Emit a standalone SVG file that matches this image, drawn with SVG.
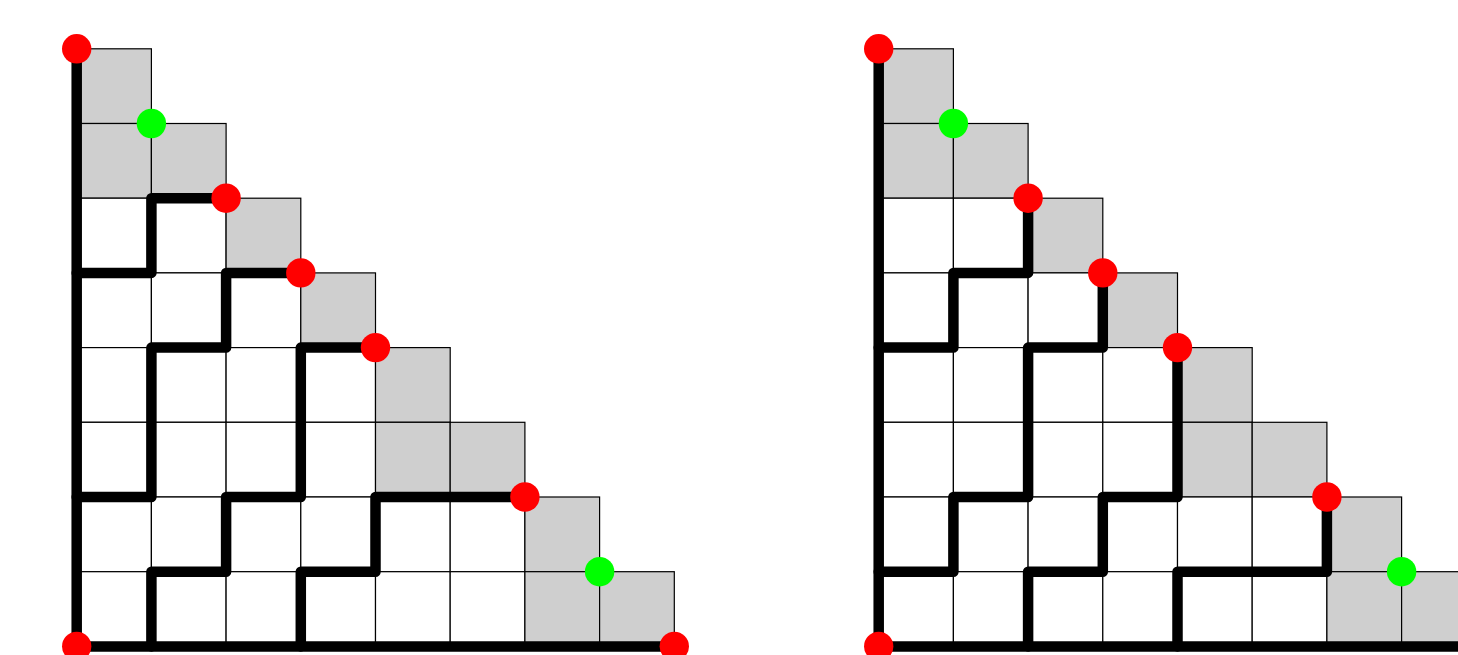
<svg xmlns="http://www.w3.org/2000/svg" xmlns:xlink="http://www.w3.org/1999/xlink" width="1458" height="655" viewBox="0 0 1458 655">
<style>
.w{fill:#ffffff;stroke:#000;stroke-width:1.2}
.g{fill:#cfcfcf;stroke:#000;stroke-width:1.2}
.p{fill:none;stroke:#000;stroke-width:10.5;stroke-linecap:round;stroke-linejoin:round}
.r{fill:#ff0000}
.gr{fill:#00ff00}
</style>
<defs>
<g id="cells">
<rect class="g" x="0" y="0" width="74.7" height="74.7"/>
<rect class="g" x="0" y="74.7" width="74.7" height="74.7"/>
<rect class="g" x="74.7" y="74.7" width="74.7" height="74.7"/>
<rect class="w" x="0" y="149.4" width="74.7" height="74.7"/>
<rect class="w" x="74.7" y="149.4" width="74.7" height="74.7"/>
<rect class="g" x="149.4" y="149.4" width="74.7" height="74.7"/>
<rect class="w" x="0" y="224.1" width="74.7" height="74.7"/>
<rect class="w" x="74.7" y="224.1" width="74.7" height="74.7"/>
<rect class="w" x="149.4" y="224.1" width="74.7" height="74.7"/>
<rect class="g" x="224.1" y="224.1" width="74.7" height="74.7"/>
<rect class="w" x="0" y="298.8" width="74.7" height="74.7"/>
<rect class="w" x="74.7" y="298.8" width="74.7" height="74.7"/>
<rect class="w" x="149.4" y="298.8" width="74.7" height="74.7"/>
<rect class="w" x="224.1" y="298.8" width="74.7" height="74.7"/>
<rect class="g" x="298.8" y="298.8" width="74.7" height="74.7"/>
<rect class="w" x="0" y="373.5" width="74.7" height="74.7"/>
<rect class="w" x="74.7" y="373.5" width="74.7" height="74.7"/>
<rect class="w" x="149.4" y="373.5" width="74.7" height="74.7"/>
<rect class="w" x="224.1" y="373.5" width="74.7" height="74.7"/>
<rect class="g" x="298.8" y="373.5" width="74.7" height="74.7"/>
<rect class="g" x="373.5" y="373.5" width="74.7" height="74.7"/>
<rect class="w" x="0" y="448.2" width="74.7" height="74.7"/>
<rect class="w" x="74.7" y="448.2" width="74.7" height="74.7"/>
<rect class="w" x="149.4" y="448.2" width="74.7" height="74.7"/>
<rect class="w" x="224.1" y="448.2" width="74.7" height="74.7"/>
<rect class="w" x="298.8" y="448.2" width="74.7" height="74.7"/>
<rect class="w" x="373.5" y="448.2" width="74.7" height="74.7"/>
<rect class="g" x="448.2" y="448.2" width="74.7" height="74.7"/>
<rect class="w" x="0" y="522.9" width="74.7" height="74.7"/>
<rect class="w" x="74.7" y="522.9" width="74.7" height="74.7"/>
<rect class="w" x="149.4" y="522.9" width="74.7" height="74.7"/>
<rect class="w" x="224.1" y="522.9" width="74.7" height="74.7"/>
<rect class="w" x="298.8" y="522.9" width="74.7" height="74.7"/>
<rect class="w" x="373.5" y="522.9" width="74.7" height="74.7"/>
<rect class="g" x="448.2" y="522.9" width="74.7" height="74.7"/>
<rect class="g" x="522.9" y="522.9" width="74.7" height="74.7"/>
</g>
<g id="dots">
<circle class="r" cx="0" cy="0" r="14.7"/>
<circle class="r" cx="149.4" cy="149.4" r="14.7"/>
<circle class="r" cx="224.1" cy="224.1" r="14.7"/>
<circle class="r" cx="298.8" cy="298.8" r="14.7"/>
<circle class="r" cx="448.2" cy="448.2" r="14.7"/>
<circle class="r" cx="597.6" cy="597.6" r="14.7"/>
<circle class="r" cx="0" cy="597.6" r="14.7"/>
<circle class="gr" cx="74.7" cy="74.7" r="14.7"/>
<circle class="gr" cx="522.9" cy="522.9" r="14.7"/>
</g>
</defs>
<g id="left" transform="translate(76.7,48.8)">
<use xlink:href="#cells" href="#cells"/>
<g id="left-paths">
<path class="p" d="M0,0 V597.6 H597.6"/>
<path class="p" d="M149.4,149.4 H74.7 V224.1 H0"/>
<path class="p" d="M224.1,224.1 H149.4 V298.8 H74.7 V448.2 H0"/>
<path class="p" d="M298.8,298.8 H224.1 V448.2 H149.4 V522.9 H74.7 V597.6"/>
<path class="p" d="M448.2,448.2 H298.8 V522.9 H224.1 V597.6"/>
</g>
<use xlink:href="#dots" href="#dots"/>
</g>
<g id="right" transform="translate(878.7,48.8)">
<use xlink:href="#cells" href="#cells"/>
<g id="right-paths">
<path class="p" d="M0,0 V597.6 H597.6"/>
<path class="p" d="M149.4,149.4 V224.1 H74.7 V298.8 H0"/>
<path class="p" d="M224.1,224.1 V298.8 H149.4 V448.2 H74.7 V522.9 H0"/>
<path class="p" d="M298.8,298.8 V448.2 H224.1 V522.9 H149.4 V597.6"/>
<path class="p" d="M448.2,448.2 V522.9 H298.8 V597.6"/>
</g>
<use xlink:href="#dots" href="#dots"/>
</g>
</svg>
